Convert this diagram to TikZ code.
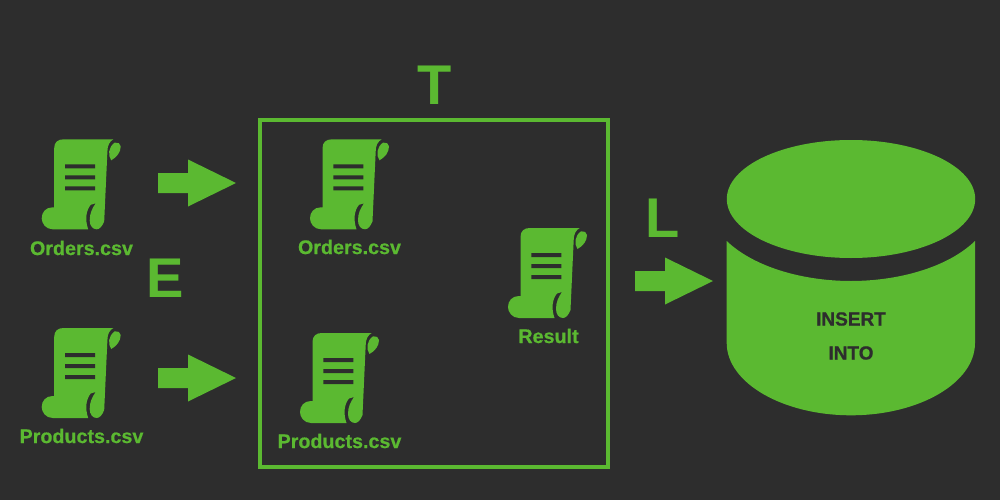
\documentclass[tikz,border=0pt]{standalone}
\usepackage{fontspec}
\setmainfont{Liberation Sans}
\newfontfamily\heavyfont[FakeBold=0.6]{Liberation Sans Bold}
\definecolor{darkbg}{HTML}{2D2D2D}
\definecolor{etlgreen}{HTML}{5BB931}
\tikzset{
    filename/.style={text=etlgreen,font=\heavyfont\fontsize{19.7}{24}\selectfont,inner sep=0pt},
    letter/.style={text=etlgreen,font=\bfseries\fontsize{56}{60}\selectfont,inner sep=0pt},
    dbtext/.style={text=darkbg,font=\heavyfont\fontsize{19}{23}\selectfont,inner sep=0pt},
    scroll/.pic={
        \fill[etlgreen] (12.5,9) .. controls (12.5,3) and (16,0) .. (22,0)
            -- (71.7,0) .. controls (68,2) and (65.7,6) .. (65.7,12)
            -- (62.5,82) .. controls (60.5,87) and (58,90) .. (55,90)
            .. controls (51,90) and (48,86.5) .. (48,81)
            .. controls (48,74) and (50.5,69) .. (54,64)
            -- (49,65.5) .. controls (44.5,71) and (43,80) .. (46.5,90)
            -- (11,90) .. controls (4,90) and (0,84) .. (0,79)
            .. controls (0,73) and (4,68) .. (11,68)
            -- (12.5,68) -- cycle;
        \fill[etlgreen] (73,3.3) .. controls (76,3) and (79,4) .. (79,7)
            .. controls (79,13) and (75,18) .. (69.5,21)
            .. controls (66,16) and (66.5,8) .. (73,3.3) -- cycle;
        \fill[darkbg] (23.3,25) rectangle (53.3,29)
            (23.3,36) rectangle (53.3,40)
            (23.3,47) rectangle (53.3,51);
    },
    blockarrow/.pic={
        \fill[etlgreen] (0,-10) -- (30,-10) -- (30,-23.5) -- (78,0)
            -- (30,23.5) -- (30,10) -- (0,10) -- cycle;
    }
}
\begin{document}
\begin{tikzpicture}[x=1pt,y=-1pt]

    \fill[darkbg] (0,0) rectangle (1000,500);
    \useasboundingbox (0,0) rectangle (1000,500);

    % files
    \pic at (41.7,139.3) {scroll};
    \pic at (41.7,328) {scroll};
    \pic at (310,139.3) {scroll};
    \pic at (300,333) {scroll};
    \pic at (508,228) {scroll};

    \node[filename] (ordersE) at (81.5,248) {Orders.csv};
    \node[filename] (productsE) at (81.5,436) {Products.csv};
    \node[filename] (ordersT) at (349.5,247) {Orders.csv};
    \node[filename] (productsT) at (339.5,441) {Products.csv};
    \node[filename] (result) at (548.5,336) {Result};

    % arrows
    \pic at (158,183) {blockarrow};
    \pic at (158,378) {blockarrow};
    \pic at (635,281) {blockarrow};

    % outline
    \draw[etlgreen,line width=4.2pt] (260.1,120) rectangle (608,466.6);

    \node[letter] (extract) at (165.5,278.5) {E};
    \node[letter] (transform) at (434.5,85) {T};
    \node[letter] (load) at (663,218) {L};

    % database
    \fill[etlgreen] (851,199) ellipse [x radius=124.2,y radius=59];
    \fill[etlgreen] (726.7,241) .. controls (755,268) and (805,281) .. (851,281)
        .. controls (897,281) and (947,268) .. (975,241)
        -- (975,343) .. controls (975,383) and (919,415.3) .. (851,415.3)
        .. controls (783,415.3) and (726.7,383) .. (726.7,343) -- cycle;

    \node[dbtext] (insert) at (851,319) {INSERT};
    \node[dbtext] (into) at (851,353) {INTO};
\end{tikzpicture}
\end{document}
